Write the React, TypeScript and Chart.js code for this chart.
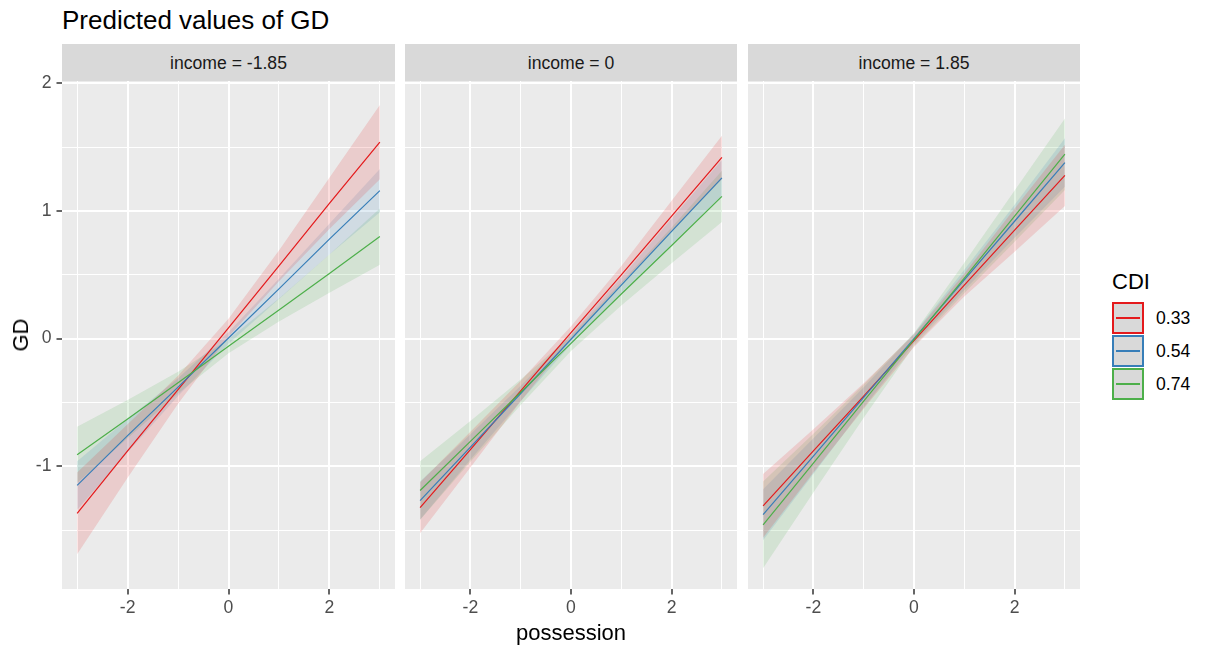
import React, { useEffect, useRef } from 'react';
import { Chart, registerables } from 'chart.js';

Chart.register(...registerables);

// ---- data ----
const possession = [-3, -2, -1, 0, 1, 2, 3];
const cdiLevels = ['0.33', '0.54', '0.74'];
const incomeLabels = ['income = -1.85', 'income = 0', 'income = 1.85'];

const xMajorTicks = [-2, 0, 2];
const xTickLabels = ['-2', '0', '2'];
const xMinorTicks = [-3, -1, 1, 3];
const yMajorTicks = [-1, 0, 1, 2];
const yTickLabels = ['-1', '0', '1', '2'];
const yMinorTicks = [-1.5, -0.5, 0.5, 1.5];

// income = -1.85
const p1Cdi033 = [-1.37, -0.88, -0.4, 0.085, 0.57, 1.06, 1.54];
const p1Cdi033Lo = [-1.69, -1.09, -0.51, 0.015, 0.45, 0.86, 1.25];
const p1Cdi033Hi = [-1.05, -0.67, -0.29, 0.155, 0.69, 1.26, 1.83];
const p1Cdi054 = [-1.15, -0.76, -0.38, 0.005, 0.39, 0.78, 1.16];
const p1Cdi054Lo = [-1.34, -0.89, -0.45, -0.04, 0.31, 0.66, 0.99];
const p1Cdi054Hi = [-0.96, -0.63, -0.31, 0.05, 0.47, 0.9, 1.33];
const p1Cdi074 = [-0.91, -0.63, -0.345, -0.06, 0.225, 0.51, 0.8];
const p1Cdi074Lo = [-1.13, -0.78, -0.43, -0.115, 0.135, 0.36, 0.58];
const p1Cdi074Hi = [-0.69, -0.48, -0.26, -0.005, 0.315, 0.66, 1.02];

// income = 0
const p2Cdi033 = [-1.325, -0.87, -0.41, 0.047, 0.5, 0.96, 1.42];
const p2Cdi033Lo = [-1.525, -1.01, -0.49, -0.003, 0.43, 0.84, 1.25];
const p2Cdi033Hi = [-1.125, -0.73, -0.33, 0.097, 0.57, 1.08, 1.59];
const p2Cdi054 = [-1.27, -0.85, -0.43, -0.005, 0.42, 0.84, 1.26];
const p2Cdi054Lo = [-1.42, -0.95, -0.49, -0.045, 0.36, 0.74, 1.12];
const p2Cdi054Hi = [-1.12, -0.75, -0.37, 0.035, 0.48, 0.94, 1.4];
const p2Cdi074 = [-1.19, -0.805, -0.42, -0.037, 0.35, 0.73, 1.115];
const p2Cdi074Lo = [-1.42, -0.965, -0.52, -0.097, 0.26, 0.59, 0.915];
const p2Cdi074Hi = [-0.96, -0.645, -0.32, 0.023, 0.44, 0.87, 1.315];

// income = 1.85
const p3Cdi033 = [-1.31, -0.88, -0.45, -0.016, 0.42, 0.85, 1.28];
const p3Cdi033Lo = [-1.56, -1.05, -0.55, -0.066, 0.33, 0.68, 1.04];
const p3Cdi033Hi = [-1.06, -0.71, -0.35, 0.034, 0.51, 1.02, 1.52];
const p3Cdi054 = [-1.38, -0.92, -0.46, 0.0, 0.46, 0.92, 1.38];
const p3Cdi054Lo = [-1.58, -1.06, -0.54, -0.04, 0.38, 0.79, 1.19];
const p3Cdi054Hi = [-1.18, -0.78, -0.38, 0.04, 0.54, 1.05, 1.57];
const p3Cdi074 = [-1.46, -0.975, -0.49, -0.008, 0.475, 0.96, 1.445];
const p3Cdi074Lo = [-1.8, -1.205, -0.62, -0.058, 0.355, 0.76, 1.165];
const p3Cdi074Hi = [-1.12, -0.745, -0.36, 0.042, 0.595, 1.16, 1.725];

const panelData = [
  {
    pred: [p1Cdi033, p1Cdi054, p1Cdi074],
    lo: [p1Cdi033Lo, p1Cdi054Lo, p1Cdi074Lo],
    hi: [p1Cdi033Hi, p1Cdi054Hi, p1Cdi074Hi],
  },
  {
    pred: [p2Cdi033, p2Cdi054, p2Cdi074],
    lo: [p2Cdi033Lo, p2Cdi054Lo, p2Cdi074Lo],
    hi: [p2Cdi033Hi, p2Cdi054Hi, p2Cdi074Hi],
  },
  {
    pred: [p3Cdi033, p3Cdi054, p3Cdi074],
    lo: [p3Cdi033Lo, p3Cdi054Lo, p3Cdi074Lo],
    hi: [p3Cdi033Hi, p3Cdi054Hi, p3Cdi074Hi],
  },
];

// ---- styles ----
const lineColors = ['#E41A1C', '#377EB8', '#4DAF4A'];
const ribbonColors = ['rgba(228,26,28,0.15)', 'rgba(55,126,184,0.15)', 'rgba(77,175,74,0.15)'];
const FONT = "'Liberation Sans', Arial, Helvetica, sans-serif";

const X_MIN = -3.3;
const X_MAX = 3.3;
const Y_MIN = -1.962;
const Y_MAX = 2.019;

const CANVAS_TOP = 60;
const CANVAS_H = 646 - CANVAS_TOP;
const PANEL_TOP_PAD = 21; // panel top at 81
const X_AXIS_H = 57; // panel bottom at 589

const panels = [
  { canvasLeft: 0, canvasWidth: 395, yAxisWidth: 62, stripLeft: 62, stripWidth: 333 },
  { canvasLeft: 405, canvasWidth: 332, yAxisWidth: 0, stripLeft: 405, stripWidth: 332 },
  { canvasLeft: 748, canvasWidth: 332, yAxisWidth: 0, stripLeft: 748, stripWidth: 332 },
];

const bgPlugin = {
  id: 'panelBg',
  beforeDraw(chart: any) {
    const { ctx, chartArea } = chart;
    ctx.save();
    ctx.fillStyle = '#EBEBEB';
    ctx.fillRect(chartArea.left, chartArea.top, chartArea.right - chartArea.left, chartArea.bottom - chartArea.top);
    ctx.restore();
  },
};

function toPoints(ys: number[]) {
  return possession.map((x, i) => ({ x, y: ys[i] }));
}

function Panel({ idx }: { idx: number }) {
  const ref = useRef<HTMLCanvasElement | null>(null);
  const p = panels[idx];
  useEffect(() => {
    if (!ref.current) return;
    const d = panelData[idx];
    const datasets: any[] = [];
    for (let k = 0; k < 3; k++) {
      const loIndex = datasets.length;
      datasets.push({
        data: toPoints(d.lo[k]),
        borderColor: 'rgba(0,0,0,0)',
        borderWidth: 0,
        pointRadius: 0,
        fill: false,
        order: 10,
      });
      datasets.push({
        data: toPoints(d.hi[k]),
        borderColor: 'rgba(0,0,0,0)',
        borderWidth: 0,
        pointRadius: 0,
        backgroundColor: ribbonColors[k],
        fill: { target: loIndex },
        order: 10,
      });
    }
    for (let k = 0; k < 3; k++) {
      datasets.push({
        data: toPoints(d.pred[k]),
        borderColor: lineColors[k],
        borderWidth: 1.2,
        pointRadius: 0,
        fill: false,
        tension: 0,
        order: 2 - k,
      });
    }
    const showY = p.yAxisWidth > 0;
    const isMajorX = (v: number) => xMajorTicks.includes(v);
    const isMajorY = (v: number) => yMajorTicks.includes(v);
    const chart = new Chart(ref.current, {
      type: 'line',
      data: { datasets },
      plugins: [bgPlugin],
      options: {
        animation: false,
        responsive: false,
        maintainAspectRatio: false,
        events: [],
        layout: { padding: { top: PANEL_TOP_PAD, left: 0, right: 0, bottom: 0 } },
        plugins: {
          legend: { display: false },
          tooltip: { enabled: false },
          title: { display: false },
        },
        scales: {
          x: {
            type: 'linear',
            min: X_MIN,
            max: X_MAX,
            position: 'bottom',
            afterBuildTicks: (s: any) => {
              s.ticks = [...xMinorTicks, ...xMajorTicks].sort((a, b) => a - b).map((v) => ({ value: v }));
            },
            afterFit: (s: any) => {
              s.height = X_AXIS_H;
              s.paddingLeft = 0;
              s.paddingRight = 0;
              s.paddingTop = 0;
              s.paddingBottom = 0;
            },
            ticks: {
              autoSkip: false,
              maxRotation: 0,
              minRotation: 0,
              padding: 3,
              color: '#4D4D4D',
              font: { family: FONT, size: 17.6 },
              callback: (v: any) => {
                const i = xMajorTicks.indexOf(v);
                return i >= 0 ? xTickLabels[i] : '';
              },
            },
            grid: {
              color: '#FFFFFF',
              lineWidth: (c: any) => (c.tick && isMajorX(c.tick.value) ? 2 : 1),
              drawTicks: true,
              tickLength: 5.5,
              tickWidth: 1.5,
              tickColor: (c: any) => (c.tick && isMajorX(c.tick.value) ? '#333333' : 'rgba(0,0,0,0)'),
            },
            border: { display: false },
          },
          y: {
            type: 'linear',
            min: Y_MIN,
            max: Y_MAX,
            position: 'left',
            afterBuildTicks: (s: any) => {
              s.ticks = [...yMinorTicks, ...yMajorTicks].sort((a, b) => a - b).map((v) => ({ value: v }));
            },
            afterFit: (s: any) => {
              s.width = p.yAxisWidth;
              s.paddingLeft = 0;
              s.paddingRight = 0;
              s.paddingTop = 0;
              s.paddingBottom = 0;
            },
            ticks: {
              display: showY,
              autoSkip: false,
              padding: 5,
              color: '#4D4D4D',
              font: { family: FONT, size: 17.6 },
              callback: (v: any) => {
                const i = yMajorTicks.indexOf(v);
                return i >= 0 ? yTickLabels[i] : '';
              },
            },
            grid: {
              color: '#FFFFFF',
              lineWidth: (c: any) => (c.tick && isMajorY(c.tick.value) ? 2 : 1),
              drawTicks: showY,
              tickLength: 5.5,
              tickWidth: 1.5,
              tickColor: (c: any) => (c.tick && isMajorY(c.tick.value) ? '#333333' : 'rgba(0,0,0,0)'),
            },
            border: { display: false },
          },
        },
      } as any,
    });
    return () => chart.destroy();
  }, [idx]);

  return (
    <canvas
      ref={ref}
      width={p.canvasWidth}
      height={CANVAS_H}
      style={{
        position: 'absolute',
        left: p.canvasLeft,
        top: CANVAS_TOP,
        width: p.canvasWidth,
        height: CANVAS_H,
      }}
    />
  );
}

export default function App() {
  return (
    <div
      style={{
        position: 'absolute',
        left: 0,
        top: 0,
        width: 1205,
        height: 646,
        background: '#FFFFFF',
        overflow: 'hidden',
        fontFamily: FONT,
      }}
    >
      <div
        style={{
          position: 'absolute',
          left: 62,
          top: 7,
          fontSize: 26,
          lineHeight: 1,
          color: '#000000',
          whiteSpace: 'nowrap',
        }}
      >
        Predicted values of GD
      </div>

      {panels.map((p, i) => (
        <div
          key={'strip' + i}
          style={{
            position: 'absolute',
            left: p.stripLeft,
            top: 44,
            width: p.stripWidth,
            height: 37,
            background: '#D9D9D9',
            color: '#1A1A1A',
            fontSize: 17.6,
            lineHeight: '39px',
            textAlign: 'center',
            whiteSpace: 'nowrap',
          }}
        >
          {incomeLabels[i]}
        </div>
      ))}

      {panels.map((_, i) => (
        <Panel key={'panel' + i} idx={i} />
      ))}

      <div
        style={{
          position: 'absolute',
          left: 21,
          top: 335,
          transform: 'translate(-50%, -50%) rotate(-90deg)',
          fontSize: 22,
          lineHeight: 1,
          color: '#000000',
          whiteSpace: 'nowrap',
        }}
      >
        GD
      </div>

      <div
        style={{
          position: 'absolute',
          left: 571,
          top: 622,
          transform: 'translateX(-50%)',
          fontSize: 22,
          lineHeight: 1,
          color: '#000000',
          whiteSpace: 'nowrap',
        }}
      >
        possession
      </div>

      <div
        style={{
          position: 'absolute',
          left: 1112,
          top: 271,
          fontSize: 22,
          lineHeight: 1,
          color: '#000000',
          whiteSpace: 'nowrap',
        }}
      >
        CDI
      </div>
      {cdiLevels.map((lab, k) => (
        <div key={'leg' + k}>
          <div
            style={{
              position: 'absolute',
              left: 1112,
              top: 302 + k * 33,
              width: 28,
              height: 28,
              background: '#D9D9D9',
              border: '2px solid ' + lineColors[k],
            }}
          >
            <div
              style={{
                position: 'absolute',
                left: 2,
                right: 2,
                top: 13,
                height: 2,
                background: lineColors[k],
              }}
            />
          </div>
          <div
            style={{
              position: 'absolute',
              left: 1156,
              top: 302 + k * 33,
              height: 32,
              lineHeight: '32px',
              fontSize: 17.6,
              color: '#000000',
              whiteSpace: 'nowrap',
            }}
          >
            {lab}
          </div>
        </div>
      ))}
    </div>
  );
}
